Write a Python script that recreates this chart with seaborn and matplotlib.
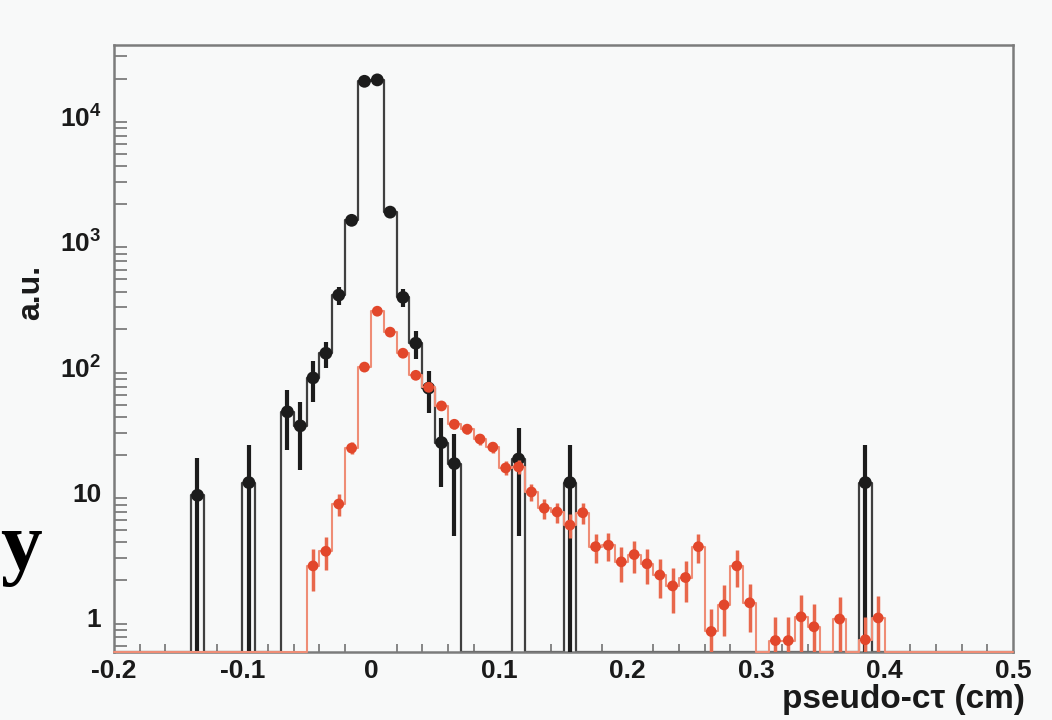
import numpy as np
import matplotlib
matplotlib.use("Agg")
import matplotlib.pyplot as plt
import seaborn as sns
from matplotlib.ticker import FixedLocator, LogLocator, MultipleLocator, NullFormatter

# ---------------- data ----------------
black_x = [-0.135, -0.095, -0.065, -0.055, -0.045, -0.035, -0.025, -0.015, -0.005,
           0.005, 0.015, 0.025, 0.035, 0.045, 0.055, 0.065, 0.115, 0.155, 0.385]
black_y = [9.5, 12, 44, 34, 82, 129, 375, 1480, 19000,
           19500, 1720, 360, 155, 68, 25, 17, 18.5, 12, 12]
black_err = [9.5, 12, 22, 19, 29, 30, 60, 125, 450,
             460, 135, 60, 38, 25, 14, 12.5, 14, 12, 12]

red_x = [-0.045, -0.035, -0.025, -0.015, -0.005, 0.005, 0.015, 0.025, 0.035, 0.045,
         0.055, 0.065, 0.075, 0.085, 0.095, 0.105, 0.115, 0.125, 0.135, 0.145,
         0.155, 0.165, 0.175, 0.185, 0.195, 0.205, 0.215, 0.225, 0.235, 0.245,
         0.255, 0.265, 0.275, 0.285, 0.295, 0.315, 0.325, 0.335, 0.345, 0.365,
         0.385, 0.395]
red_y = [2.6, 3.4, 8.1, 22.6, 100, 279, 190, 129, 86, 69,
         49, 35, 32, 26.7, 23, 15.7, 16, 10.1, 7.5, 7.0,
         5.5, 6.9, 3.7, 3.8, 2.8, 3.2, 2.7, 2.2, 1.8, 2.1,
         3.7, 0.78, 1.27, 2.6, 1.32, 0.66, 0.66, 1.02, 0.85, 0.98,
         0.67, 1.0]
red_err = [0.95, 1.0, 1.6, 2.5, 5, 8.5, 7, 5.7, 4.6, 4.2,
           3.5, 3, 2.8, 2.6, 2.4, 2.0, 2.0, 1.6, 1.4, 1.3,
           1.2, 1.3, 0.95, 0.95, 0.85, 0.9, 0.85, 0.75, 0.7, 0.75,
           0.95, 0.4, 0.55, 0.85, 0.55, 0.35, 0.35, 0.5, 0.45, 0.5,
           0.35, 0.5]

x_ticks = [-0.2, -0.1, 0.0, 0.1, 0.2, 0.3, 0.4, 0.5]
x_tick_labels = ["-0.2", "-0.1", "0", "0.1", "0.2", "0.3", "0.4", "0.5"]
y_ticks = [1, 10, 100, 1000, 10000]
y_tick_labels = ["1", "10", "$10^{2}$", "$10^{3}$", "$10^{4}$"]

XMIN, XMAX, BIN = -0.2, 0.5, 0.01
YMIN, YMAX = 0.535, 3.7e4

# ---------------- style ----------------
BG = "#f8f9f9"
BLACK = "#1c1c1c"
BLACK_LINE = "#404040"
RED = "#e2472b"
RED_ERR = "#e8684c"
RED_LINE = "#ef8d76"
GREY = "#7c7c7c"

sns.set_theme(style="white")
plt.rcParams["font.family"] = ["Liberation Sans", "DejaVu Sans"]
plt.rcParams["font.weight"] = "bold"
plt.rcParams["mathtext.fontset"] = "custom"
plt.rcParams["mathtext.rm"] = "Liberation Sans:bold"
plt.rcParams["mathtext.default"] = "rm"

W, H = 1052, 720
fig = plt.figure(figsize=(W / 100, H / 100), dpi=100, facecolor=BG)
L, R, T, B = 114, 1013, 45, 652
ax = fig.add_axes([L / W, 1 - B / H, (R - L) / W, (B - T) / H])
ax.set_facecolor(BG)
ax.set_yscale("log")

nbins = int(round((XMAX - XMIN) / BIN))
edges = np.round(XMIN + BIN * np.arange(nbins + 1), 4)


def full_hist(xs, ys):
    arr = np.zeros(nbins)
    idx = np.round((np.asarray(xs) - XMIN) / BIN - 0.5).astype(int)
    arr[idx] = ys
    return arr


def step_line(xs, ys, color, lw, z, clip):
    vals = full_hist(xs, ys)
    vals = np.where(vals > 0, vals, YMIN)
    yy = np.append(vals, vals[-1])
    sns.lineplot(x=edges, y=yy, drawstyle="steps-post", estimator=None, sort=False,
                 color=color, linewidth=lw, ax=ax, zorder=z, clip_on=clip)


def err_bars(xs, ys, es, color, lw, z):
    xs, ys, es = map(np.asarray, (xs, ys, es))
    lo = np.maximum(ys - es, YMIN)
    hi = np.minimum(ys + es, YMAX)
    ax.vlines(xs, lo, hi, colors=color, linewidth=lw, zorder=z)


# black histogram
step_line(black_x, black_y, BLACK_LINE, 1.6, 2, True)
err_bars(black_x, black_y, black_err, BLACK, 3.0, 3)
sns.scatterplot(x=black_x, y=black_y, s=85, color=BLACK, edgecolor="none", ax=ax, zorder=4)

# red histogram
step_line(red_x, red_y, RED_LINE, 1.5, 5, False)
err_bars(red_x, red_y, red_err, RED_ERR, 2.5, 6)
sns.scatterplot(x=red_x, y=red_y, s=60, color=RED, edgecolor="none", ax=ax, zorder=7)

ax.set_xlim(XMIN, XMAX)
ax.set_ylim(YMIN, YMAX)

# axes / ticks
ax.xaxis.set_major_locator(FixedLocator(x_ticks))
ax.set_xticklabels(x_tick_labels)
ax.xaxis.set_minor_locator(MultipleLocator(0.02))
ax.yaxis.set_major_locator(FixedLocator(y_ticks))
ax.set_yticklabels(y_tick_labels)
ax.yaxis.set_minor_locator(LogLocator(base=10, subs=np.arange(2, 10), numticks=30))
ax.yaxis.set_minor_formatter(NullFormatter())

ax.tick_params(axis="both", which="both", direction="in", top=False, right=False,
               color=GREY, labelcolor="#1a1a1a", width=1.3, labelsize=19)
ax.tick_params(axis="x", which="major", length=12.5, pad=5)
ax.tick_params(axis="x", which="minor", length=6, bottom=True)
ax.tick_params(axis="y", which="major", length=19, pad=9)
ax.tick_params(axis="y", which="minor", length=9.5, left=True)

for s in ax.spines.values():
    s.set_color(GREY)
    s.set_linewidth(1.8)
    s.set_visible(True)

ax.set_xlabel("pseudo-c\u03c4 (cm)", fontsize=24, fontweight="bold", color="#1a1a1a")
ax.xaxis.set_label_coords((1025 - L) / (R - L), (B - 708) / (B - T))
ax.xaxis.label.set_ha("right")
ax.xaxis.label.set_va("baseline")

ax.set_ylabel("a.u.", fontsize=23, fontweight="bold", color="#1a1a1a")
ax.yaxis.set_label_coords((31 - L) / (R - L), (B - 292) / (B - T))
ax.yaxis.label.set_va("center")
ax.yaxis.label.set_ha("center")

# stray glyph from the source slide
fig.text(0.0, 1 - 569 / H, "y", fontsize=60, fontweight="bold",
         family=["Liberation Serif", "DejaVu Serif"], ha="left", va="baseline", color="black")

fig.savefig("out.png", dpi=100, facecolor=BG)
